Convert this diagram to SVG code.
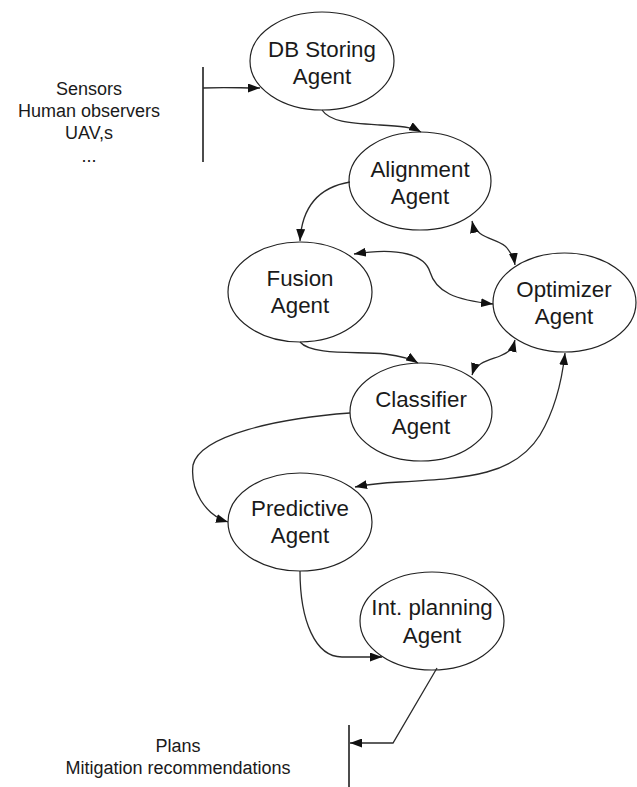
<svg xmlns="http://www.w3.org/2000/svg" width="637" height="787" viewBox="0 0 637 787">
<style>
  .node ellipse { fill: #ffffff; stroke: #222222; stroke-width: 1.2; }
  .lbl { font-family: "Liberation Sans", Arial, sans-serif; font-size: 22.3px; fill: #1a1a1a; text-anchor: middle; }
  .side { font-family: "Liberation Sans", Arial, sans-serif; font-size: 18px; fill: #1a1a1a; text-anchor: middle; }
  .conn path { fill: none; stroke: #2a2a2a; stroke-width: 1.3; }
  .bar { stroke: #111111; stroke-width: 1.5; }
</style>
<defs>
  <marker id="ah" viewBox="0 0 12 9" refX="12" refY="4.5" markerWidth="12" markerHeight="9" markerUnits="userSpaceOnUse" orient="auto-start-reverse">
    <path d="M0,0 L12,4.5 L0,9 z" fill="#111111"/>
  </marker>
</defs>
<rect width="637" height="787" fill="#ffffff"/>

<g id="input">
  <text class="side" x="89" y="95">Sensors</text>
  <text class="side" x="89" y="117">Human observers</text>
  <text class="side" x="89" y="139">UAV,s</text>
  <text class="side" x="89" y="162">...</text>
  <line class="bar" x1="203" y1="67" x2="203" y2="162"/>
</g>

<g id="output">
  <text class="side" x="178" y="752">Plans</text>
  <text class="side" x="178" y="774">Mitigation recommendations</text>
  <line class="bar" x1="349" y1="725" x2="349" y2="787"/>
</g>

<g id="db" class="node">
  <ellipse cx="322" cy="61" rx="72" ry="49"/>
  <text class="lbl" x="322" y="57">DB Storing</text>
  <text class="lbl" x="322" y="84">Agent</text>
</g>
<g id="alignment" class="node">
  <ellipse cx="420" cy="181" rx="71" ry="49"/>
  <text class="lbl" x="420" y="177">Alignment</text>
  <text class="lbl" x="420" y="204">Agent</text>
</g>
<g id="fusion" class="node">
  <ellipse cx="300" cy="292" rx="72" ry="50"/>
  <text class="lbl" x="300" y="286">Fusion</text>
  <text class="lbl" x="300" y="313">Agent</text>
</g>
<g id="optimizer" class="node">
  <ellipse cx="564.5" cy="302.5" rx="71.5" ry="49.5"/>
  <text class="lbl" x="564" y="297">Optimizer</text>
  <text class="lbl" x="564" y="324">Agent</text>
</g>
<g id="classifier" class="node">
  <ellipse cx="421" cy="412" rx="71" ry="49"/>
  <text class="lbl" x="421" y="407">Classifier</text>
  <text class="lbl" x="421" y="434">Agent</text>
</g>
<g id="predictive" class="node">
  <ellipse cx="300" cy="522" rx="72" ry="49"/>
  <text class="lbl" x="300" y="516">Predictive</text>
  <text class="lbl" x="300" y="543">Agent</text>
</g>
<g id="planning" class="node">
  <ellipse cx="432" cy="621" rx="72" ry="49"/>
  <text class="lbl" x="432" y="615">Int. planning</text>
  <text class="lbl" x="432" y="643">Agent</text>
</g>

<g id="connectors" class="conn">
  <path d="M203,88 C225,87 240,88 260,88" marker-end="url(#ah)"/>
  <path d="M322,110 C330,122 350,123 380,125 C400,126 412,127 421,132" marker-end="url(#ah)"/>
  <path d="M350,182 C320,187 302,205 300,241" marker-end="url(#ah)"/>
  <path d="M354,254 C400,247 425,255 430,272 C436,292 455,300 493,304" marker-start="url(#ah)" marker-end="url(#ah)"/>
  <path d="M472,221 C476,240 500,238 507,248 C512,255 514,258 515,265" marker-start="url(#ah)" marker-end="url(#ah)"/>
  <path d="M300,342 C312,356 360,351 385,354 C400,356 410,358 418,363" marker-end="url(#ah)"/>
  <path d="M472,375 C476,362 490,360 500,356 C510,352 513,348 515,340" marker-start="url(#ah)" marker-end="url(#ah)"/>
  <path d="M350,413 C280,418 200,435 193,465 C190,490 205,515 228,522" marker-end="url(#ah)"/>
  <path d="M565,353 C562,380 555,410 540,435 C515,475 470,478 400,482 C380,483 365,485 355,487" marker-start="url(#ah)" marker-end="url(#ah)"/>
  <path d="M300,571 C300,620 315,657 342,657 L382,657" marker-end="url(#ah)"/>
  <path d="M437,668 L393,743 L350,743" marker-end="url(#ah)"/>
</g>
</svg>
